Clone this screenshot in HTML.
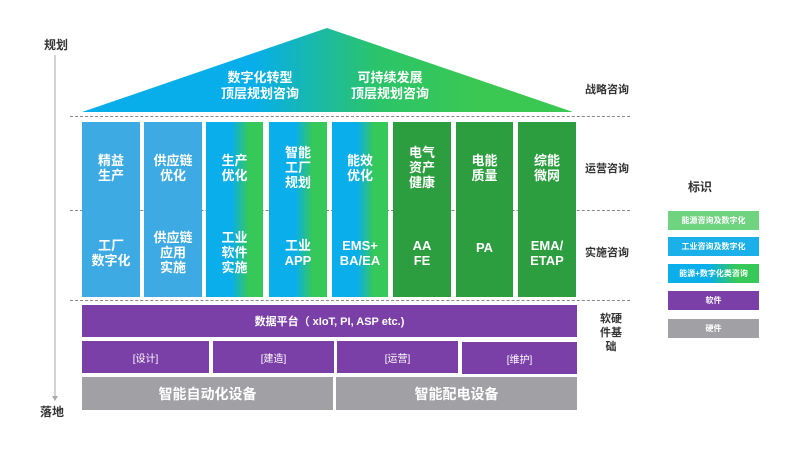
<!DOCTYPE html><html><head><meta charset="utf-8"><style>
body{margin:0;width:800px;height:450px;background:#fff;position:relative;overflow:hidden;font-family:"Liberation Sans","Noto Sans CJK SC",sans-serif;font-weight:bold}
.a{position:absolute;display:flex;align-items:center;justify-content:center;text-align:center;color:#fff}
.c{font-size:13px;line-height:15px}
.g{background:linear-gradient(90deg,#0aaeea 45%,#36c859 75%)}
.lb{background:#3eaae3}.dg{background:#2d9e3f}.pu{background:#7b40a8}.gr{background:#a1a1a5}
.t{position:absolute;color:#333;font-size:11px}
.d{position:absolute;left:70px;width:560px;border-top:1px dashed #888;height:0}
</style></head><body>
<svg style="position:absolute;left:0;top:0" width="800" height="450">
<defs><linearGradient id="tg" x1="0" x2="1"><stop offset="0.35" stop-color="#07aeea"/><stop offset="0.6" stop-color="#2bc46a"/><stop offset="0.8" stop-color="#3ac853"/></linearGradient></defs>
<polygon points="327,28 82,112 573,112" fill="url(#tg)"/>
<line x1="55" y1="55" x2="55" y2="398" stroke="#aaa" stroke-width="1"/>
<polygon points="52,396 58,396 55,401" fill="#aaa"/>
</svg>
<div class="a" style="left:210px;top:70px;width:100px;font-size:13px;line-height:16px">数字化转型<br>顶层规划咨询</div>
<div class="a" style="left:340px;top:70px;width:100px;font-size:13px;line-height:16px">可持续发展<br>顶层规划咨询</div>
<div class="d" style="top:116px"></div><div class="d" style="top:210px"></div><div class="d" style="top:300px"></div>
<div class="t" style="left:44px;top:36px;font-size:12px">规划</div>
<div class="t" style="left:40px;top:403px;font-size:12px">落地</div>
<div class="t" style="left:585px;top:81px">战略咨询</div>
<div class="t" style="left:585px;top:160px">运营咨询</div>
<div class="t" style="left:585px;top:244px">实施咨询</div>
<div class="t" style="left:598px;top:312px;width:26px;line-height:14px;text-align:center">软硬件基础</div>
<div class="lb a" style="left:82px;top:122px;width:58px;height:175px"></div>
<div class="lb a" style="left:144px;top:122px;width:58px;height:175px"></div>
<div class="g a" style="left:206px;top:122px;width:57px;height:175px"></div>
<div class="g a" style="left:269px;top:122px;width:58px;height:175px"></div>
<div class="g a" style="left:332px;top:122px;width:56px;height:175px"></div>
<div class="dg a" style="left:393px;top:122px;width:58px;height:175px"></div>
<div class="dg a" style="left:456px;top:122px;width:57px;height:175px"></div>
<div class="dg a" style="left:518px;top:122px;width:58px;height:175px"></div>
<div class="a c" style="left:82px;top:130px;width:58px;height:75px">精益<br>生产</div>
<div class="a c" style="left:144px;top:130px;width:58px;height:75px">供应链<br>优化</div>
<div class="a c" style="left:206px;top:130px;width:57px;height:75px">生产<br>优化</div>
<div class="a c" style="left:269px;top:130px;width:58px;height:75px">智能<br>工厂<br>规划</div>
<div class="a c" style="left:332px;top:130px;width:56px;height:75px">能效<br>优化</div>
<div class="a c" style="left:393px;top:130px;width:58px;height:75px">电气<br>资产<br>健康</div>
<div class="a c" style="left:456px;top:130px;width:57px;height:75px">电能<br>质量</div>
<div class="a c" style="left:518px;top:130px;width:58px;height:75px">综能<br>微网</div>
<div class="a c" style="left:82px;top:215px;width:58px;height:75px">工厂<br>数字化</div>
<div class="a c" style="left:144px;top:215px;width:58px;height:75px">供应链<br>应用<br>实施</div>
<div class="a c" style="left:206px;top:215px;width:57px;height:75px">工业<br>软件<br>实施</div>
<div class="a c" style="left:269px;top:215px;width:58px;height:75px">工业<br>APP</div>
<div class="a c" style="left:332px;top:215px;width:56px;height:75px">EMS+<br>BA/EA</div>
<div class="a c" style="left:393px;top:215px;width:58px;height:75px">AA<br>FE</div>
<div class="a c" style="left:456px;top:215px;width:57px;height:65px">PA</div>
<div class="a c" style="left:518px;top:215px;width:58px;height:75px">EMA/<br>ETAP</div>
<div class="pu a" style="left:82px;top:305px;width:495px;height:32px;font-size:11px">数据平台（ xIoT, PI, ASP etc.)</div>
<div class="pu a" style="left:82px;top:341px;width:127px;height:32px;font-size:10px;font-weight:normal">[设计]</div>
<div class="pu a" style="left:213px;top:341px;width:121px;height:32px;font-size:10px;font-weight:normal">[建造]</div>
<div class="pu a" style="left:337px;top:341px;width:121px;height:32px;font-size:10px;font-weight:normal">[运营]</div>
<div class="pu a" style="left:462px;top:342px;width:115px;height:32px;font-size:10px;font-weight:normal">[维护]</div>
<div class="gr a" style="left:82px;top:377px;width:251px;height:33px;font-size:14px">智能自动化设备</div>
<div class="gr a" style="left:336px;top:377px;width:241px;height:33px;font-size:14px">智能配电设备</div>
<div class="t" style="left:688px;top:178px;font-size:12px">标识</div>
<div class="a" style="left:668px;top:211px;width:91px;height:19px;font-size:8px;background:#6fd37f">能源咨询及数字化</div>
<div class="a" style="left:668px;top:237px;width:91px;height:19px;font-size:8px;background:#1bb0ea">工业咨询及数字化</div>
<div class="a g" style="left:668px;top:264px;width:91px;height:19px;font-size:8px">能源+数字化类咨询</div>
<div class="a pu" style="left:668px;top:291px;width:91px;height:19px;font-size:8px">软件</div>
<div class="a gr" style="left:668px;top:319px;width:91px;height:19px;font-size:8px">硬件</div>
</body></html>
